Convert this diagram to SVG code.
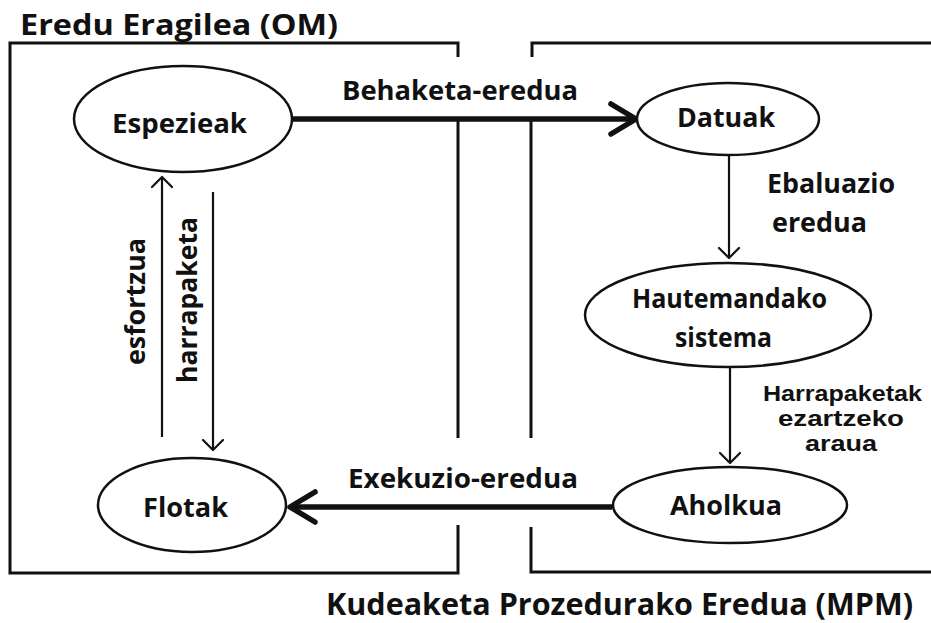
<svg xmlns="http://www.w3.org/2000/svg" width="931" height="623" viewBox="0 0 931 623">
<style>
text{font-family:"Open Sans","Liberation Sans",sans-serif;font-weight:bold;fill:#111;text-anchor:start}
.box{fill:none;stroke:#111;stroke-width:3}
.node{fill:#fff;stroke:#111;stroke-width:2.5}
.thin{fill:none;stroke:#111;stroke-width:2.2}
.thick{fill:none;stroke:#111;stroke-width:5.5}
.lbl{font-size:26px}
.small{font-size:22px;font-family:"Liberation Sans","Open Sans",sans-serif}
.title{font-size:29px}
</style>
<defs>
<marker id="hThin" markerUnits="userSpaceOnUse" viewBox="0 0 14 24" refX="12" refY="12" markerWidth="14" markerHeight="24" orient="auto">
<path d="M2,2 L12,12 L2,22" fill="none" stroke="#111" stroke-width="2.2" stroke-linecap="round" stroke-linejoin="round"/>
</marker>
<marker id="hThick" markerUnits="userSpaceOnUse" viewBox="0 0 32 38" refX="29" refY="19" markerWidth="32" markerHeight="38" orient="auto">
<path d="M4,4 L29,19 L4,34" fill="none" stroke="#111" stroke-width="5.5" stroke-linecap="round" stroke-linejoin="round"/>
</marker>
</defs>
<rect width="931" height="623" fill="#fff"/>
<g id="frames">
<path class="box" d="M458,57 V43 H10 V573 H458 V525 M458,438 V121"/>
<path class="box" d="M532,57 V43 H931 M931,572 H531 V527 M531,438 V121"/>
<text class="title" x="20" y="35" textLength="318" lengthAdjust="spacingAndGlyphs">Eredu Eragilea (OM)</text>
<text class="title" x="326" y="615" textLength="587" lengthAdjust="spacingAndGlyphs" style="font-size:31px">Kudeaketa Prozedurako Eredua (MPM)</text>
</g>
<g id="connectors">
<line class="thick" x1="293" y1="119" x2="636" y2="119" marker-end="url(#hThick)"/>
<line class="thick" x1="612" y1="507" x2="290" y2="507" marker-end="url(#hThick)"/>
<line class="thin" x1="162" y1="437" x2="162" y2="177" marker-end="url(#hThin)"/>
<line class="thin" x1="213" y1="192" x2="213" y2="450" marker-end="url(#hThin)"/>
<line class="thin" x1="729" y1="155" x2="729" y2="258" marker-end="url(#hThin)"/>
<line class="thin" x1="730" y1="367" x2="730" y2="463" marker-end="url(#hThin)"/>
<text class="lbl" x="342" y="100" textLength="236" lengthAdjust="spacingAndGlyphs">Behaketa-eredua</text>
<text class="lbl" x="348" y="488" textLength="230" lengthAdjust="spacingAndGlyphs">Exekuzio-eredua</text>
<text class="lbl" transform="translate(145,365) rotate(-90)" textLength="127" lengthAdjust="spacingAndGlyphs">esfortzua</text>
<text class="lbl" transform="translate(197,383) rotate(-90)" textLength="166" lengthAdjust="spacingAndGlyphs">harrapaketa</text>
<text class="lbl" x="767" y="193" textLength="128" lengthAdjust="spacingAndGlyphs">Ebaluazio</text>
<text class="lbl" x="772" y="232" textLength="95" lengthAdjust="spacingAndGlyphs">eredua</text>
<text class="small" x="763" y="401" textLength="159" lengthAdjust="spacingAndGlyphs">Harrapaketak</text>
<text class="small" x="778" y="426" textLength="126" lengthAdjust="spacingAndGlyphs">ezartzeko</text>
<text class="small" x="805" y="451" textLength="72" lengthAdjust="spacingAndGlyphs">araua</text>
</g>
<g id="espezieak">
<ellipse class="node" cx="183" cy="119" rx="109" ry="53"/>
<text class="lbl" x="112" y="133" textLength="135" lengthAdjust="spacingAndGlyphs">Espezieak</text>
</g>
<g id="flotak">
<ellipse class="node" cx="192" cy="505" rx="94" ry="47"/>
<text class="lbl" x="143" y="517" textLength="85" lengthAdjust="spacingAndGlyphs">Flotak</text>
</g>
<g id="datuak">
<ellipse class="node" cx="728" cy="119" rx="91" ry="36"/>
<text class="lbl" x="677" y="127" textLength="98" lengthAdjust="spacingAndGlyphs">Datuak</text>
</g>
<g id="hautemandako">
<ellipse class="node" cx="728" cy="315" rx="143" ry="52"/>
<text class="lbl" x="632" y="308" textLength="195" lengthAdjust="spacingAndGlyphs">Hautemandako</text>
<text class="lbl" x="675" y="347" textLength="97" lengthAdjust="spacingAndGlyphs">sistema</text>
</g>
<g id="aholkua">
<ellipse class="node" cx="730" cy="505" rx="117" ry="38"/>
<text class="lbl" x="670" y="515" textLength="112" lengthAdjust="spacingAndGlyphs">Aholkua</text>
</g>
</svg>
